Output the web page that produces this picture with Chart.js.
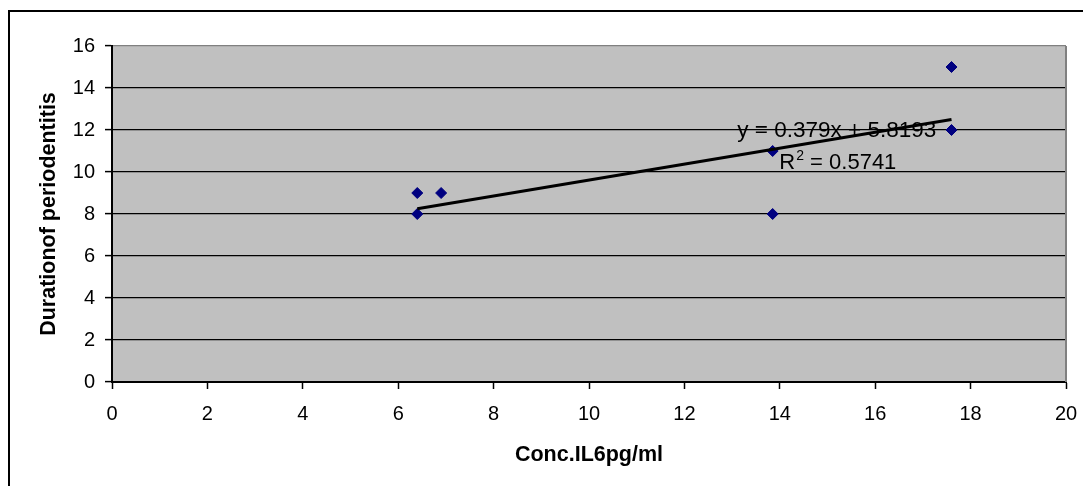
<!DOCTYPE html>
<html>
<head>
<meta charset="utf-8">
<title>Duration of periodentitis vs Conc.IL6</title>
<script src="https://cdn.jsdelivr.net/npm/chart.js@4.4.0/dist/chart.umd.min.js"></script>
<style>
    html, body { margin: 0; padding: 0; background: #ffffff; }
    #wrap { width: 1083px; height: 486px; position: relative; }
</style>
</head>
<body>
<div id="wrap"><canvas id="IL6Chart"></canvas></div>
<script>
//Values
const concIL6 = [6.4, 6.4, 6.9, 13.85, 13.85, 17.6, 17.6];
const durationYears = [8, 9, 9, 11, 8, 15, 12];

//Trend line ends (as drawn in the picture)
const trendX = [6.4, 17.6];
const trendY = [8.25, 12.5];

const equationText = 'y = 0.379x + 5.8193';
const rSquaredText = '0.5741';

const xTicks = [0, 2, 4, 6, 8, 10, 12, 14, 16, 18, 20];
const yTicks = [0, 2, 4, 6, 8, 10, 12, 14, 16];

const fontName = '"Liberation Sans", Arial, sans-serif';

Chart.defaults.font.family = fontName;
Chart.defaults.color = '#000000';

//Background, frames and the trend line label
const excelLook = {
    id: 'excelLook',
    beforeDraw(chart) {
        const {ctx, chartArea} = chart;
        ctx.save();
        ctx.fillStyle = '#ffffff';
        ctx.fillRect(0, 0, chart.width, chart.height);
        ctx.fillStyle = '#c0c0c0';
        ctx.fillRect(chartArea.left, chartArea.top, chartArea.right - chartArea.left, chartArea.bottom - chartArea.top);
        ctx.strokeStyle = '#000000';
        ctx.lineWidth = 2;
        ctx.strokeRect(9, 11, chart.width + 20, chart.height + 20);
        ctx.restore();
    },
    beforeDatasetsDraw(chart) {
        const {ctx, chartArea, scales} = chart;
        ctx.save();
        ctx.strokeStyle = '#808080';
        ctx.lineWidth = 2;
        ctx.beginPath();
        ctx.moveTo(chartArea.right, chartArea.top);
        ctx.lineTo(chartArea.right, chartArea.bottom);
        ctx.stroke();

        ctx.fillStyle = '#000000';
        ctx.textBaseline = 'alphabetic';
        ctx.font = '22.5px ' + fontName;
        const ex = scales.x.getPixelForValue(13.11);
        const ey = scales.y.getPixelForValue(11.68);
        ctx.fillText(equationText, ex, ey);

        const rx = scales.x.getPixelForValue(13.99);
        const ry = scales.y.getPixelForValue(10.15);
        ctx.font = '22px ' + fontName;
        ctx.fillText('R', rx, ry);
        let w = ctx.measureText('R').width;
        ctx.font = '14px ' + fontName;
        ctx.fillText('2', rx + w + 1, ry - 9);
        w += ctx.measureText('2').width + 1;
        ctx.font = '22px ' + fontName;
        ctx.fillText(' = ' + rSquaredText, rx + w, ry);
        ctx.restore();
    }
};

const data = {
    datasets: [{
        label: 'Duration',
        data: concIL6.map((v, i) => ({x: v, y: durationYears[i]})),
        pointStyle: 'rectRot',
        pointRadius: 5.5,
        borderWidth: 1,
        backgroundColor: '#000080',
        borderColor: '#000080',
        showLine: false,
        order: 1
    }, {
        label: 'Linear trend',
        data: trendX.map((v, i) => ({x: v, y: trendY[i]})),
        showLine: true,
        pointRadius: 0,
        borderColor: '#000000',
        borderWidth: 3,
        order: 0
    }]
};

const config = {
    type: 'scatter',
    data: data,
    options: {
        responsive: true,
        maintainAspectRatio: false,
        animation: false,
        layout: {
            padding: {left: 0, top: 46, right: 17, bottom: 0}
        },
        scales: {
            x: {
                type: 'linear',
                min: 0,
                max: 20,
                afterBuildTicks: (scale) => { scale.ticks = xTicks.map(v => ({value: v})); },
                afterFit: (scale) => {
                    scale.height = 104;
                    scale.paddingLeft = 0;
                    scale.paddingRight = 0;
                },
                grid: {
                    drawOnChartArea: false,
                    drawTicks: true,
                    tickLength: 7,
                    tickColor: '#000000',
                    tickWidth: 1.5
                },
                border: {color: '#000000', width: 2},
                ticks: {
                    font: {size: 20},
                    color: '#000000',
                    padding: 13,
                    maxRotation: 0
                },
                title: {
                    display: true,
                    text: 'Conc.IL6pg/ml',
                    font: {size: 21.5, weight: 'bold'},
                    color: '#000000',
                    padding: {top: 0, bottom: 18}
                }
            },
            y: {
                type: 'linear',
                min: 0,
                max: 16,
                afterBuildTicks: (scale) => { scale.ticks = yTicks.map(v => ({value: v})); },
                afterFit: (scale) => { scale.width = 112; },
                grid: {
                    color: (c) => (c.tick && c.tick.value === 16) ? '#808080' : '#000000',
                    lineWidth: 1.2,
                    drawTicks: true,
                    tickLength: 7,
                    tickColor: '#000000',
                    tickWidth: 1.5
                },
                border: {color: '#000000', width: 2},
                ticks: {
                    font: {size: 20},
                    color: '#000000',
                    padding: 10
                },
                title: {
                    display: true,
                    text: 'Durationof periodentitis',
                    font: {size: 21.5, weight: 'bold'},
                    color: '#000000',
                    padding: {top: 36, bottom: 0}
                }
            }
        },
        plugins: {
            legend: {display: false},
            tooltip: {enabled: false}
        }
    },
    plugins: [excelLook]
};

new Chart(document.getElementById('IL6Chart'), config);
</script>
</body>
</html>
